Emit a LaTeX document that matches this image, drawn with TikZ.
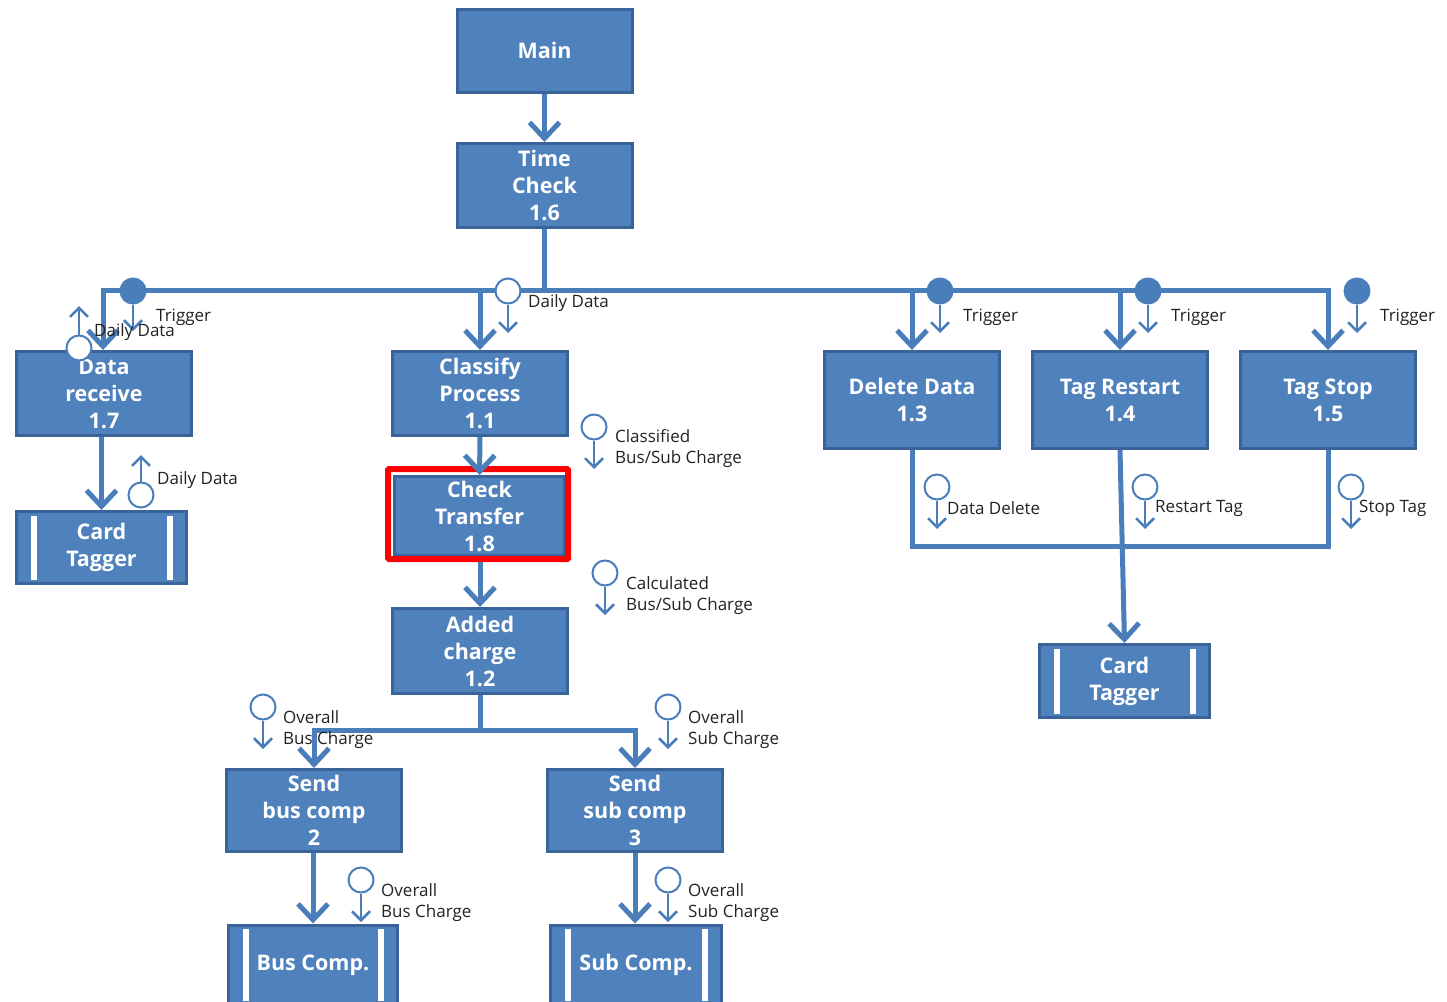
\documentclass[tikz,border=0pt]{standalone}
\usepackage{fontspec}
\newfontfamily\boxfam{Open Sans}
\newfontfamily\annfam{Open Sans}
\usetikzlibrary{arrows.meta}
\definecolor{boxfill}{HTML}{4F81BD}
\definecolor{boxedge}{HTML}{3A639A}
\definecolor{flowcol}{HTML}{4A7EBB}
\definecolor{anntext}{HTML}{222222}
\begin{document}
\begin{tikzpicture}[x=1pt,y=-1pt,
  proc/.style={draw=boxedge, line width=3pt, fill=boxfill, text=white,
    font=\boxfam\bfseries\fontsize{21.5}{27}\selectfont, align=center,
    inner sep=0pt, minimum width=175pt, minimum height=84pt},
  store/.style={proc, path picture={
    \fill[white] ([xshift=14pt,yshift=4pt]path picture bounding box.south west) rectangle ([xshift=20pt,yshift=-4pt]path picture bounding box.north west);
    \fill[white] ([xshift=-20pt,yshift=4pt]path picture bounding box.south east) rectangle ([xshift=-14pt,yshift=-4pt]path picture bounding box.north east);}},
  flow/.style={draw=flowcol, line width=5pt, line join=miter, -{Straight Barb[length=16pt,width=30pt]}},
  bus/.style={draw=flowcol, line width=5pt, line join=miter},
  ann/.style={draw=flowcol, line width=2.5pt, -{Straight Barb[length=9pt,width=18pt]}},
  dflow/.style={circle, draw=flowcol, line width=2pt, fill=white, minimum size=25pt, inner sep=0pt},
  cflow/.style={dflow, fill=flowcol},
  lbl/.style={anchor=west, text=anntext, font=\annfam\fontsize{17}{21}\selectfont, align=left, inner sep=0pt}
]
\useasboundingbox (0,0) rectangle (1447,1001);

% process boxes
\node[proc, minimum width=175pt, minimum height=83pt] (main) at (544.5,50.5) {Main};
\node[proc] (tc) at (544.5,185.5) {Time\\Check\\1.6};
\node[proc] (dr) at (104,393.5) {Data\\receive\\1.7};
\node[store, minimum width=170pt, minimum height=72pt] (ct1) at (101.5,547.5) {Card\\Tagger};
\node[proc] (cp) at (480,393.5) {Classify\\Process\\1.1};
\node[proc, minimum width=170pt, minimum height=79pt] (ck) at (479.5,516) {Check\\Transfer\\1.8};
\node[draw=red, line width=6pt, minimum width=180pt, minimum height=90pt, inner sep=0pt, rounded corners=1pt] (hl) at (478,514) {};
\node[proc, minimum height=85pt] (ac) at (480,651) {Added\\charge\\1.2};
\node[proc, minimum height=82pt] (sb) at (314,810.5) {Send\\bus comp\\2};
\node[proc, minimum height=82pt] (ss) at (635,810.5) {Send\\sub comp\\3};
\node[store, minimum width=169pt, minimum height=80pt] (bc) at (313,965) {Bus Comp.};
\node[store, minimum width=171pt, minimum height=80pt] (sc) at (636,965) {Sub Comp.};
\node[proc, minimum height=97pt] (dd) at (912,400) {Delete Data\\1.3};
\node[proc, minimum height=97pt] (tr) at (1120,400) {Tag Restart\\1.4};
\node[proc, minimum height=97pt] (ts) at (1328,400) {Tag Stop\\1.5};
\node[store, minimum width=170pt, minimum height=73pt] (ct2) at (1124.5,681) {Card\\Tagger};

% junction coordinates
\coordinate (busL) at (103,290);
\coordinate (busR) at (1328,290);
\coordinate (fork) at (480,730);
\coordinate (jb) at (1122,546);

% connectors
\draw[flow] (main) -- (tc);
\draw[flow] (tc.south) -- (tc.south|-busL) -- (busL) -- (busL|-dr.north);
\draw[flow] (tc.south|-busL) -- (busR) -- (ts.north);
\draw[flow] (cp.north|-busL) -- (cp.north);
\draw[flow] (dd.north|-busL) -- (dd.north);
\draw[flow] (tr.north|-busL) -- (tr.north);
\draw[flow] (dr.south-|ct1.north) -- (ct1.north);
\draw[flow] (cp) -- (ck);
\draw[flow] (hl.south-|ac.north) -- (ac.north);
\draw[bus] (ac.south) -- (fork);
\draw[flow, {Straight Barb[length=16pt,width=30pt]}-{Straight Barb[length=16pt,width=30pt]}] (sb.north) -- (sb.north|-fork) -- (ss.north|-fork) -- (ss.north);
\draw[flow] (sb.south-|bc.north) -- (bc.north);
\draw[flow] (ss.south) -- (ss.south|-sc.north);
\draw[bus] (dd.south) -- (dd.south|-jb) -- (ts.south|-jb) -- (ts.south);
\draw[flow] (tr.south) -- (ct2.north);

% data flow / control flow markers
\node[cflow] (c1) at (133,291) {};
\coordinate (e1) at (133,331);
\draw[ann] (c1) -- (e1);
\node[lbl] (t1) at (156,317) {Trigger};

\node[dflow] (c2) at (79,348) {};
\coordinate (e2) at (79,306);
\draw[ann] (c2) -- (e2);

\node[dflow] (c3) at (508,291) {};
\coordinate (e3) at (508,333);
\draw[ann] (c3) -- (e3);
\node[lbl] (t3) at (528,303) {Daily Data};

\node[dflow] (c4) at (141,495) {};
\coordinate (e4) at (141,455);
\draw[ann] (c4) -- (e4);
\node[lbl] (t4) at (157,480) {Daily Data};

\node[dflow] (c5) at (594,427) {};
\coordinate (e5) at (594,469);
\draw[ann] (c5) -- (e5);
\node[lbl] (t5) at (615,449) {Classified\\Bus/Sub Charge};

\node[dflow] (c6) at (605,573) {};
\coordinate (e6) at (605,615);
\draw[ann] (c6) -- (e6);
\node[lbl] (t6) at (626,596) {Calculated\\Bus/Sub Charge};

\node[dflow] (c7) at (263,707) {};
\coordinate (e7) at (263,749);
\draw[ann] (c7) -- (e7);

\node[dflow] (c8) at (668,707) {};
\coordinate (e8) at (668,749);
\draw[ann] (c8) -- (e8);
\node[lbl] (t8) at (688,730) {Overall\\Sub Charge};

\node[dflow] (c9) at (361,880) {};
\coordinate (e9) at (361,922);
\draw[ann] (c9) -- (e9);
\node[lbl] (t9) at (381,903) {Overall\\Bus Charge};

\node[dflow] (c10) at (668,880) {};
\coordinate (e10) at (668,922);
\draw[ann] (c10) -- (e10);
\node[lbl] (t10) at (688,903) {Overall\\Sub Charge};

\node[cflow] (c11) at (940,291) {};
\coordinate (e11) at (940,333);
\draw[ann] (c11) -- (e11);
\node[lbl] (t11) at (963,317) {Trigger};

\node[cflow] (c12) at (1148,291) {};
\coordinate (e12) at (1148,333);
\draw[ann] (c12) -- (e12);
\node[lbl] (t12) at (1171,317) {Trigger};

\node[cflow] (c13) at (1357,291) {};
\coordinate (e13) at (1357,333);
\draw[ann] (c13) -- (e13);
\node[lbl] (t13) at (1380,317) {Trigger};

\node[dflow] (c14) at (937,487) {};
\coordinate (e14) at (937,529);
\draw[ann] (c14) -- (e14);
\node[lbl] (t14) at (947,508) {Data Delete};

\node[dflow] (c15) at (1145,487) {};
\coordinate (e15) at (1145,529);
\draw[ann] (c15) -- (e15);
\node[lbl] (t15) at (1155,508) {Restart Tag};

\node[dflow] (c16) at (1351,487) {};
\coordinate (e16) at (1351,529);
\draw[ann] (c16) -- (e16);
\node[lbl] (t16) at (1359,508) {Stop Tag};

% overlapping labels drawn last
\node[lbl] (t2) at (94,332) {Daily Data};
\node[lbl] (t7) at (283,730) {Overall\\Bus Charge};
\end{tikzpicture}
\end{document}
